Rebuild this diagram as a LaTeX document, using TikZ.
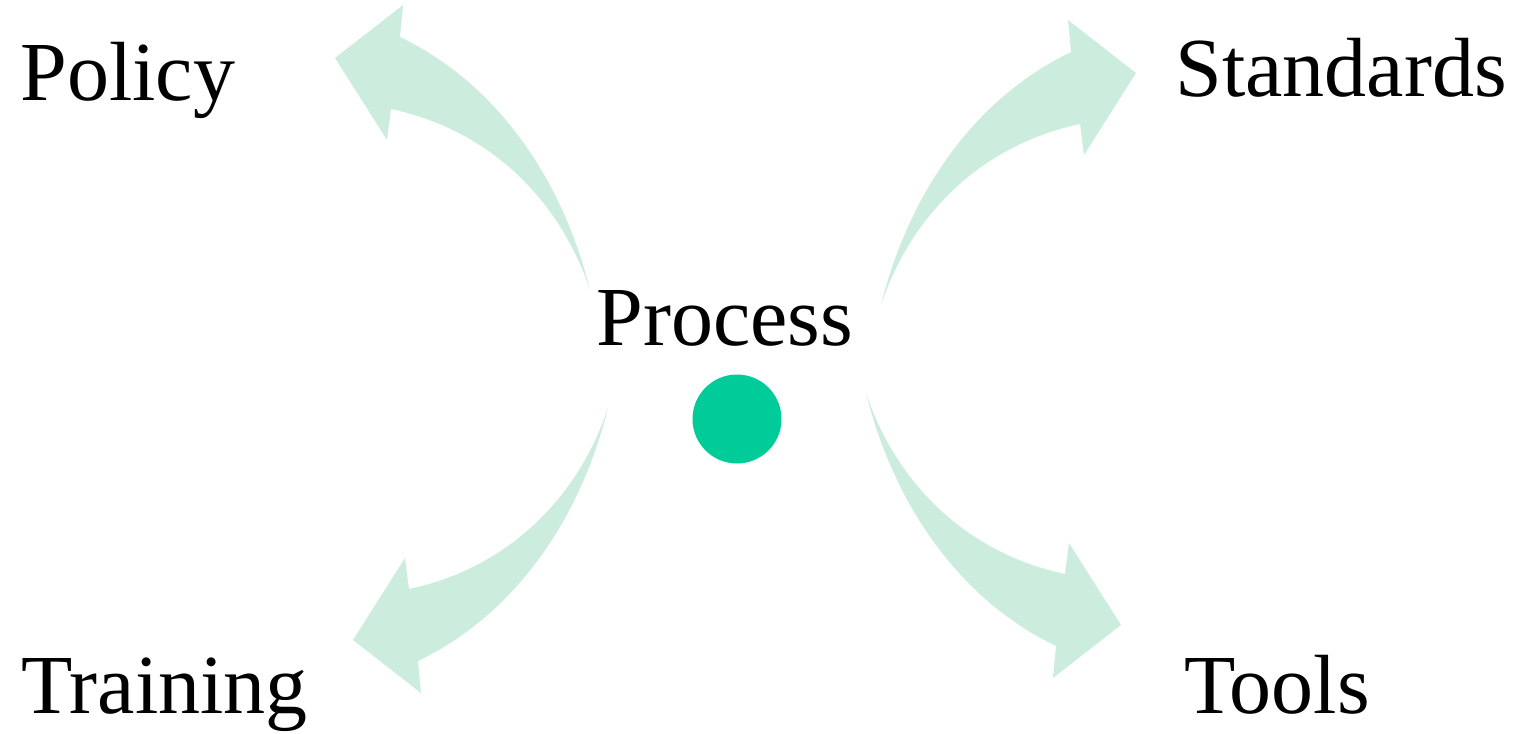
\documentclass[tikz,border=0pt]{standalone}
\usepackage{fontspec}
\setmainfont{Liberation Serif}
\definecolor{arrowmint}{RGB}{204,236,222}
\definecolor{dotgreen}{RGB}{0,204,153}
\newcommand\curvedarrowshape{%
  \fill[arrowmint] (0,0) .. controls (-30,-120) and (-100,-210) .. (-190,-253)
    -- (-187,-285) -- (-255,-232) -- (-203,-150) -- (-199,-181)
    .. controls (-100,-160) and (-30,-90) .. (0,0) -- cycle;}
\begin{document}
\begin{tikzpicture}[x=0.5pt,y=-0.5pt,
  lbl/.style={anchor=base west,inner sep=0pt,font=\fontsize{42}{50}\selectfont}]
\useasboundingbox (0,0) rectangle (1517,734);
\begin{scope}[shift={(590,290)}]\curvedarrowshape\end{scope}
\begin{scope}[shift={(881,305)},xscale=-1]\curvedarrowshape\end{scope}
\begin{scope}[shift={(608,408)},yscale=-1]\curvedarrowshape\end{scope}
\begin{scope}[shift={(866,393)},xscale=-1,yscale=-1]\curvedarrowshape\end{scope}
\fill[dotgreen] (737,419) circle[radius=44.5];
\node[lbl] (policy) at (20,100) {Policy};
\node[lbl] (standards) at (1175,96) {Standards};
\node[lbl] (process) at (596,345) {Process};
\node[lbl] (training) at (21,713) {Training};
\node[lbl] (tools) at (1184,713) {Tools};
\end{tikzpicture}
\end{document}
